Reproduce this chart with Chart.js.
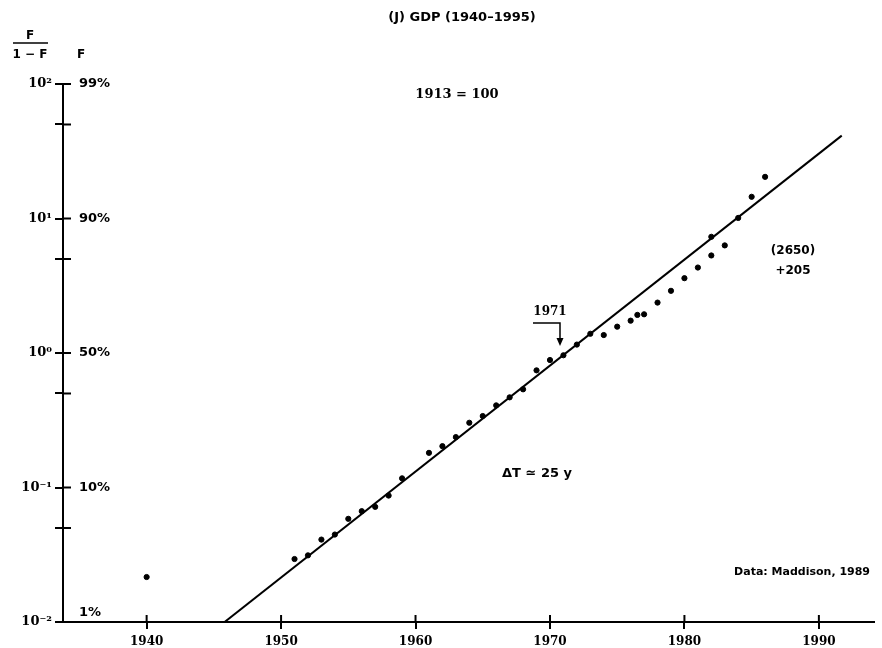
<!DOCTYPE html>
<html>
<head>
<meta charset="utf-8">
<title>GDP (1940-1995) Fisher-Pry</title>
<script src="https://cdn.jsdelivr.net/npm/chart.js@4"></script>
<style>
  html, body { margin: 0; padding: 0; background: #fff; }
  #wrap { width: 882px; height: 648px; }
</style>
</head>
<body>
<div id="wrap"><canvas id="gdpChart" width="882" height="648"></canvas></div>
<script>
// observed points, F/(1-F), 1913 = 100
const years = [1940, 1951, 1952, 1953, 1954, 1955, 1956, 1957, 1958, 1959,
  1961, 1962, 1963, 1964, 1965, 1966, 1967, 1968, 1969, 1970, 1971, 1972,
  1973, 1974, 1975, 1976, 1976.5, 1977, 1978, 1979, 1980, 1981, 1982, 1982,
  1983, 1984, 1985, 1986];
const ratioValues = [0.0216, 0.0294, 0.0313, 0.041, 0.0447, 0.0585, 0.0667, 0.0718, 0.0871, 0.117,
  0.181, 0.203, 0.237, 0.303, 0.34, 0.408, 0.468, 0.537, 0.743, 0.887, 0.962, 1.155,
  1.39, 1.36, 1.57, 1.74, 1.92, 1.94, 2.37, 2.90, 3.60, 4.32, 5.31, 7.31,
  6.31, 10.1, 14.5, 20.4];

// fitted logistic (straight on this scale)
const fitYears = [1945.8, 1991.7];
const fitValues = [0.01, 41.3];

// axes
const xTickValues = [1940, 1950, 1960, 1970, 1980, 1990];
const yTickValues = [0.01, 0.05, 0.1, 0.5, 1, 5, 10, 50, 100];
const yTickLabels = ['10\u207B\u00B2', '', '10\u207B\u00B9', '', '10\u2070', '', '10\u00B9', '', '10\u00B2'];
const fTickValues = [0.01, 0.1, 1, 10, 100];
const fTickLabels = ['1%', '10%', '50%', '90%', '99%'];

const ctx = document.getElementById('gdpChart');

const extrasPlugin = {
  id: 'extras',
  afterDraw(chart) {
    const c = chart.ctx;
    const xs = chart.scales.x;
    const ys = chart.scales.y;
    const area = chart.chartArea;
    c.save();
    c.strokeStyle = '#000';
    c.fillStyle = '#000';

    // inner half of the crossing ticks
    c.lineWidth = 2;
    yTickValues.forEach(v => {
      const py = ys.getPixelForValue(v);
      c.beginPath();
      c.moveTo(area.left, py);
      c.lineTo(area.left + 8, py);
      c.stroke();
    });
    xTickValues.forEach(v => {
      const px = xs.getPixelForValue(v);
      c.beginPath();
      c.moveTo(px, area.bottom);
      c.lineTo(px, area.bottom - 7);
      c.stroke();
    });

    // F labels right of the axis
    c.font = 'bold 13px "DejaVu Sans"';
    c.textAlign = 'left';
    c.textBaseline = 'middle';
    fTickValues.forEach((v, i) => {
      const py = ys.getPixelForValue(v);
      c.fillText(fTickLabels[i], area.left + 16, v === 0.01 ? py - 9 : py);
    });

    // axis header F/(1-F) and F
    c.font = 'bold 12px "DejaVu Sans"';
    c.textAlign = 'center';
    c.fillText('F', 30, 36);
    c.lineWidth = 1.5;
    c.beginPath();
    c.moveTo(13, 43);
    c.lineTo(48, 43);
    c.stroke();
    c.fillText('1 \u2212 F', 30, 55);
    c.fillText('F', 81, 55);

    // title
    c.font = 'bold 13px "DejaVu Sans"';
    c.fillText('(J) GDP (1940\u20131995)', 462, 18);

    c.font = 'bold 13px "DejaVu Serif"';
    c.fillText('1913 = 100', 457, 95);

    c.font = 'bold 13px "DejaVu Sans"';
    c.fillText('\u0394T \u2243 25 y', 537, 474);

    c.font = 'bold 12px "DejaVu Sans"';
    c.fillText('(2650)', 793, 251);
    c.fillText('+205', 793, 271);

    c.textAlign = 'right';
    c.font = 'bold 11px "DejaVu Sans"';
    c.fillText('Data: Maddison, 1989', 870, 572);

    // 1971 marker
    c.textAlign = 'center';
    c.font = 'bold 12px "DejaVu Serif"';
    c.fillText('1971', 550, 312);
    c.lineWidth = 1.5;
    c.beginPath();
    c.moveTo(533, 323);
    c.lineTo(560, 323);
    c.lineTo(560, 340);
    c.stroke();
    c.beginPath();
    c.moveTo(556.5, 338);
    c.lineTo(563.5, 338);
    c.lineTo(560, 346);
    c.closePath();
    c.fill();

    c.restore();
  }
};

const config = {
  type: 'scatter',
  data: {
    datasets: [
      {
        label: 'GDP',
        data: years.map((y, i) => ({ x: y, y: ratioValues[i] })),
        backgroundColor: '#000',
        borderColor: '#000',
        pointRadius: 2.6,
        pointHoverRadius: 2.6,
        showLine: false,
      },
      {
        type: 'line',
        label: 'fit',
        data: fitYears.map((y, i) => ({ x: y, y: fitValues[i] })),
        borderColor: '#000',
        borderWidth: 2,
        pointRadius: 0,
        fill: false,
      },
    ]
  },
  options: {
    responsive: false,
    animation: false,
    layout: { padding: { top: 84, right: 8, bottom: 0, left: 0 } },
    plugins: {
      legend: { display: false },
      tooltip: { enabled: false },
    },
    scales: {
      x: {
        type: 'linear',
        min: 1933.78,
        max: 1994.1,
        afterBuildTicks: s => { s.ticks = xTickValues.map(v => ({ value: v })); },
        afterFit: s => { s.height = 26; },
        border: { display: true, color: '#000', width: 2 },
        grid: { drawOnChartArea: false, drawTicks: true, tickLength: 7, color: '#000', lineWidth: 2 },
        ticks: {
          autoSkip: false,
          maxRotation: 0,
          padding: 6,
          color: '#000',
          font: { family: 'DejaVu Serif', size: 12, weight: 'bold' },
          callback: v => String(v),
        },
      },
      y: {
        type: 'logarithmic',
        min: 0.01,
        max: 100,
        afterBuildTicks: s => { s.ticks = yTickValues.map(v => ({ value: v })); },
        afterFit: s => { s.width = 63; },
        border: { display: true, color: '#000', width: 2 },
        grid: { drawOnChartArea: false, drawTicks: true, tickLength: 8, color: '#000', lineWidth: 2 },
        ticks: {
          autoSkip: false,
          padding: 3,
          color: '#000',
          font: { family: 'DejaVu Serif', size: 13, weight: 'bold' },
          callback: v => yTickLabels[yTickValues.indexOf(v)],
        },
      },
    }
  },
  plugins: [extrasPlugin],
};

let gdpChart = new Chart(ctx, config);
</script>
</body>
</html>
